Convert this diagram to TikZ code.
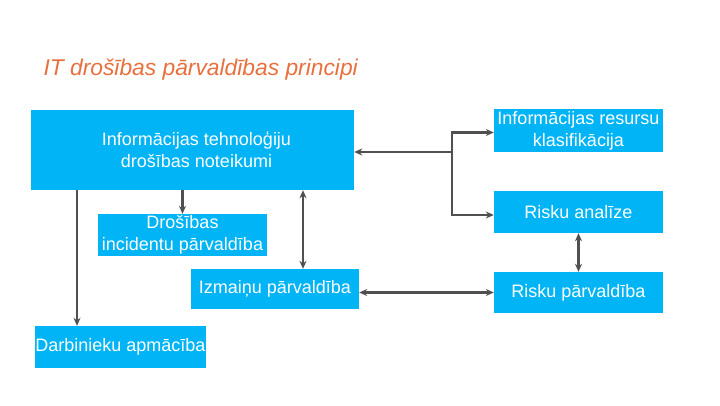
\documentclass[tikz,border=0pt]{standalone}
\usepackage{fontspec}
\setmainfont{Liberation Sans}
\usepackage{xcolor}
\usetikzlibrary{arrows.meta}
\definecolor{boxblue}{RGB}{0,180,245}
\definecolor{titleorange}{RGB}{232,112,62}
\definecolor{linegrey}{RGB}{80,80,80}

\begin{document}
\begin{tikzpicture}[x=1pt, y=-1pt,
  blok/.style={fill=boxblue, text=white, align=center, inner sep=0pt,
    font=\fontsize{18}{22}\selectfont},
  arr/.style={draw=linegrey, line width=2.8pt, -{Stealth[length=8pt,width=7pt]}},
  dbl/.style={draw=linegrey, line width=2.8pt, {Stealth[length=8pt,width=7pt]}-{Stealth[length=8pt,width=7pt]}}]
\useasboundingbox (0,0) rectangle (720,405);
\node[anchor=west, text=titleorange, font=\fontsize{22.8}{26}\selectfont\itshape] at (40,70) (title) {IT drošības pārvaldības principi};
\node[blok, minimum width=323pt, minimum height=80pt] at (192.5,150) (main) {\hspace*{8pt}Informācijas tehnoloģiju\\ \hspace*{8pt}drošības noteikumi};
\node[blok, minimum width=169pt, minimum height=43pt] at (578.5,130.5) (res) {Informācijas resursu\\ klasifikācija};
\node[blok, minimum width=169pt, minimum height=42pt] at (578.5,212) (ana) {Risku analīze};
\node[blok, minimum width=169pt, minimum height=41pt] at (578.5,292.5) (rpv) {Risku pārvaldība};
\node[blok, minimum width=169pt, minimum height=42pt] at (182.5,235) (inc) {Drošības\\ incidentu pārvaldība};
\node[blok, minimum width=168pt, minimum height=40pt] at (275,289) (izm) {Izmaiņu pārvaldība};
\node[blok, minimum width=169pt, minimum height=42pt] at (120.5,347) (darb) {Darbinieku apmācība};
\coordinate (jn) at (452,152);
\coordinate (darbtop) at ([xshift=-43.5pt]darb.north);
\coordinate (izmtop) at ([xshift=28pt]izm.north);
\draw[arr] (darbtop |- main.south) -- (darbtop);
\draw[arr] (main.south -| inc.north) -- (inc.north);
\draw[dbl] (izmtop |- main.south) -- (izmtop);
\draw[arr] (jn) -- (jn -| main.east);
\draw[arr] (jn) |- ([yshift=-2pt]res.west);
\draw[arr] (jn) |- ([yshift=-3pt]ana.west);
\draw[dbl] (ana.south) -- (rpv.north);
\draw[dbl] (rpv.west -| izm.east) -- (rpv.west);
\end{tikzpicture}
\end{document}
